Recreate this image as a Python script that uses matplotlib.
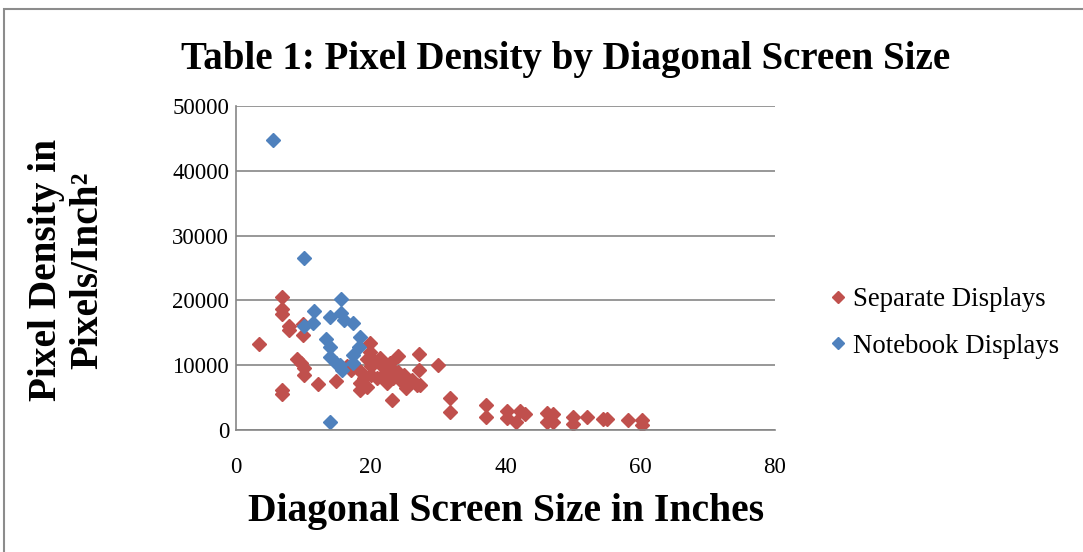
import matplotlib.pyplot as plt
from matplotlib.patches import Rectangle

# Separate displays (diagonal inches, pixels per square inch)
sep_size = [3.4, 6.9, 6.9, 6.9, 6.9, 6.9, 7.9, 7.9, 10.0, 10.0,
            9.0, 9.7, 10.1, 10.1, 12.1, 14.9, 16.5, 17.0, 18.4, 18.4,
            18.4, 19.4, 19.9, 19.9, 19.5, 20.4, 20.1, 21.4, 21.4, 21.9,
            22.8, 22.4, 23.3, 24.3, 25.3, 23.1, 24.1, 22.0, 21.0, 20.0,
            19.0, 23.0, 24.0, 25.0, 26.1, 27.3, 27.1, 27.1, 30.0, 26.8,
            31.8, 31.8, 37.1, 37.1, 40.2, 40.2, 42.1, 42.9, 41.6, 46.2,
            47.1, 46.2, 47.1, 50.0, 50.0, 52.1, 54.5, 55.0, 58.2, 60.2,
            60.2]
sep_density = [13300, 20600, 18600, 17900, 6100, 5600, 16100, 15500, 16400, 14600,
               10900, 10300, 9500, 8500, 7100, 7500, 9800, 9300, 9100, 7200,
               6200, 6700, 13500, 12100, 11000, 10800, 9800, 10300, 11100, 8600,
               10400, 7200, 8100, 7700, 6500, 4600, 11400, 9500, 8000, 8500,
               8000, 9600, 9000, 8500, 7700, 6900, 9200, 11800, 10100, 7000,
               5000, 2800, 3800, 2000, 2900, 1800, 3000, 2500, 1300, 2600,
               2500, 1300, 1300, 2000, 1000, 2000, 1700, 1700, 1600, 1500,
               800]

# Notebook displays
nb_size = [5.5, 10.1, 15.6, 11.6, 13.9, 15.6, 16.0, 17.3, 10.1, 11.5,
           13.3, 14.0, 18.4, 18.3, 14.0, 17.3, 14.9, 17.4, 15.7, 15.4,
           14.0]
nb_density = [44800, 26500, 20200, 18300, 17500, 18000, 17000, 16500, 16100, 16500,
              14100, 12800, 14300, 12800, 11300, 11500, 10300, 10300, 9300, 10000,
              1300]

red = '#C0504D'
blue = '#4F81BD'
grid_c = '#868686'
serif = ['Liberation Serif', 'DejaVu Serif']

fig = plt.figure(figsize=(10.83, 5.52), dpi=100)
ax = fig.add_axes([236 / 1083, 122 / 552, 539 / 1083, 324 / 552])

# chart frame
fig.patches.append(Rectangle((4 / 1083, -0.1), 1.2, (552 - 9) / 552 + 0.1,
                             transform=fig.transFigure, fill=False,
                             edgecolor='#8c8c8c', linewidth=1.5))

ax.plot(sep_size, sep_density, linestyle='none', marker='D', ms=7.5,
        color=red, mec=red, label='Separate Displays')
ax.plot(nb_size, nb_density, linestyle='none', marker='D', ms=7.5,
        color=blue, mec=blue, label='Notebook Displays')

ax.set_xlim(0, 80)
ax.set_ylim(0, 50000)
ax.set_xticks([0, 20, 40, 60, 80])
ax.set_yticks(range(0, 50001, 10000))
ax.yaxis.grid(True, color=grid_c, linewidth=1.2)
ax.set_axisbelow(True)
for side in ['top', 'right']:
    ax.spines[side].set_visible(False)
for side in ['left', 'bottom']:
    ax.spines[side].set_color(grid_c)
    ax.spines[side].set_linewidth(1.2)
ax.tick_params(length=0, labelsize=16.5)
ax.tick_params(axis='y', pad=5)
ax.tick_params(axis='x', pad=19.5)
for lab in ax.get_xticklabels() + ax.get_yticklabels():
    lab.set_family(serif)

fig.text(566 / 1083, 1 - 60 / 552, 'Table 1: Pixel Density by Diagonal Screen Size',
         ha='center', va='center', fontsize=28, fontweight='bold', family=serif)
fig.text(506 / 1083, 1 - 511 / 552, 'Diagonal Screen Size in Inches',
         ha='center', va='center', fontsize=28.5, fontweight='bold', family=serif)
fig.text(67 / 1083, 1 - 270 / 552, 'Pixel Density in\nPixels/Inch²',
         ha='center', va='center', rotation=90, fontsize=28.3, fontweight='bold',
         family=serif, linespacing=1.15)

ax.legend(loc='center left', bbox_to_anchor=(1.052, 0.33), frameon=False,
          prop={'family': serif, 'size': 19.3}, handletextpad=0.15,
          handlelength=0.8, markerscale=0.75, labelspacing=0.8)

fig.savefig('out.png', dpi=100)
